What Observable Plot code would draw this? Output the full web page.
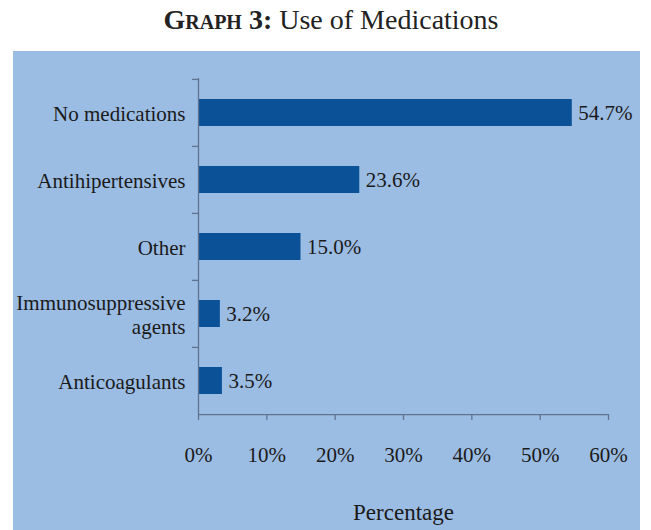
<!DOCTYPE html>
<html>
<head>
<meta charset="utf-8">
<script src="https://cdn.jsdelivr.net/npm/d3@7"></script>
<script src="https://cdn.jsdelivr.net/npm/@observablehq/plot@0.6"></script>
<style>
  html, body { margin: 0; padding: 0; background: #ffffff; }
  body { width: 651px; height: 530px; position: relative; overflow: hidden; font-family: "Liberation Serif", serif; }
  #title { position: absolute; left: 0; top: 3px; width: 662px; text-align: center; font-size: 28px; color: #222; line-height: 34px; }
  #title b { font-variant: small-caps; font-weight: bold; }
  #panel { position: absolute; left: 13px; top: 51px; width: 627px; height: 479px; background: #9cbde3; }
</style>
</head>
<body>
<div id="title"><b>Graph 3:</b> Use of Medications</div>
<div id="panel"></div>
<script>
const categories = ["No medications", "Antihipertensives", "Other", "Immunosuppressive\nagents", "Anticoagulants"];
const percentages = [54.7, 23.6, 15.0, 3.2, 3.5];
const xTicks = [0, 10, 20, 30, 40, 50, 60];
const axisTitle = "Percentage";

const data = categories.map((c, i) => ({category: c, value: percentages[i]}));

const W = 627, H = 479, mTop = 27, mBottom = 116, mLeft = 185, mRight = 32;
const halfBand = (H - mTop - mBottom) / categories.length / 2;
const axisColor = "#5f7390";
const textColor = "#1a1a1a";

const chart = Plot.plot({
  width: W,
  height: H,
  marginTop: mTop,
  marginBottom: mBottom,
  marginLeft: mLeft,
  marginRight: mRight,
  style: {background: "transparent", fontFamily: "Liberation Serif, serif", color: textColor},
  x: {domain: [0, 60], axis: null},
  y: {domain: categories, padding: 0, axis: null, label: null},
  marks: [
    Plot.barX(data, {x: "value", y: "category", fill: "#0b5197", insetTop: 20, insetBottom: 20}),
    Plot.ruleX([0], {stroke: axisColor, strokeWidth: 1.3}),
    Plot.ruleY(categories, {y: d => d, x1: 0, x2: 0, insetLeft: -6, dy: -halfBand, stroke: axisColor, strokeWidth: 1.3}),
    Plot.ruleY([categories[categories.length - 1]], {x1: 0, x2: 60, dy: halfBand, stroke: axisColor, strokeWidth: 1.3}),
    Plot.axisY({tickSize: 0, tickPadding: 13, fontSize: 21, lineHeight: 1.15, fill: textColor, label: null}),
    Plot.axisX({ticks: xTicks, tickFormat: d => d + "%", tickSize: 6, tickPadding: 27, fontSize: 21, stroke: axisColor, strokeWidth: 1.3, fill: textColor, label: null}),
    Plot.text(data, {x: "value", y: "category", text: d => d.value.toFixed(1) + "%", dx: 6, textAnchor: "start", fontSize: 21, fill: textColor}),
    Plot.text([axisTitle], {frameAnchor: "bottom", dy: 105, fontSize: 23, fill: textColor})
  ]
});
document.getElementById("panel").appendChild(chart);
</script>
</body>
</html>
